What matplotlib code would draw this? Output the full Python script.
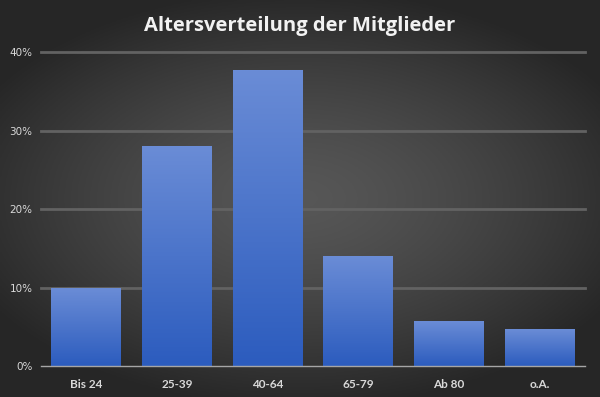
import numpy as np
import matplotlib
matplotlib.use("Agg")
import matplotlib.pyplot as plt

plt.rcParams['font.family'] = ['Lato', 'DejaVu Sans']

categories = ['Bis 24', '25-39', '40-64', '65-79', 'Ab 80', 'o.A.']
values = [0.099, 0.280, 0.376, 0.140, 0.057, 0.047]
yticks = [0, 0.1, 0.2, 0.3, 0.4]
ytick_labels = ['0%', '10%', '20%', '30%', '40%']

fig = plt.figure(figsize=(6, 3.97), dpi=100)

# radial gradient background
bg = fig.add_axes([0, 0, 1, 1], zorder=-10)
yy, xx = np.mgrid[-1:1:200j, -1:1:300j]
r = np.sqrt((xx / 1.25) ** 2 + (yy / 1.1) ** 2)
shade = np.clip(0.34 - 0.20 * r ** 1.4, 0.15, 0.34)
bg.imshow(np.dstack([shade, shade, shade]), aspect='auto', extent=(0, 1, 0, 1))
bg.axis('off')

ax = fig.add_axes([0.068, 0.078, 0.907, 0.791])
ax.patch.set_alpha(0)
x = np.arange(len(categories))
w = 0.77

grad = np.linspace(0, 1, 100).reshape(-1, 1)
top = np.array([0x6a, 0x8c, 0xd6]) / 255
bot = np.array([0x2c, 0x5c, 0xbe]) / 255
img = grad * top + (1 - grad) * bot
img = img.reshape(100, 1, 3)
for xi, v in zip(x, values):
    ax.imshow(img, aspect='auto', origin='lower',
              extent=(xi - w / 2, xi + w / 2, 0, v), zorder=3)
    ax.bar(xi, v, width=w, color='none', zorder=2)

ax.set_xlim(-0.5, len(categories) - 0.5)
ax.set_ylim(0, 0.4)
ax.set_yticks(yticks)
ax.set_yticklabels(ytick_labels)
ax.set_xticks(x)
ax.set_xticklabels(categories, fontweight='bold')
ax.tick_params(axis='both', length=0, colors='#d9d9d9', labelsize=8.5)
ax.tick_params(axis='x', pad=9)
ax.tick_params(axis='y', pad=6)
for t in ax.get_yticklabels():
    t.set_fontfamily(['DejaVu Sans'])
    t.set_fontsize(7.5)

for yv in yticks[1:]:
    ax.axhline(yv, color='#626262', linewidth=2, zorder=1, clip_on=False)

for s in ['top', 'right', 'left']:
    ax.spines[s].set_visible(False)
ax.spines['bottom'].set_color('#a6a6a6')
ax.spines['bottom'].set_linewidth(1)
ax.spines['bottom'].set_zorder(4)

fig.suptitle('Altersverteilung der Mitglieder', y=0.96, color='#f2f2f2',
             fontsize=14.5, fontweight='bold', fontfamily=['Open Sans', 'DejaVu Sans'])

fig.savefig('out.png', dpi=100)
